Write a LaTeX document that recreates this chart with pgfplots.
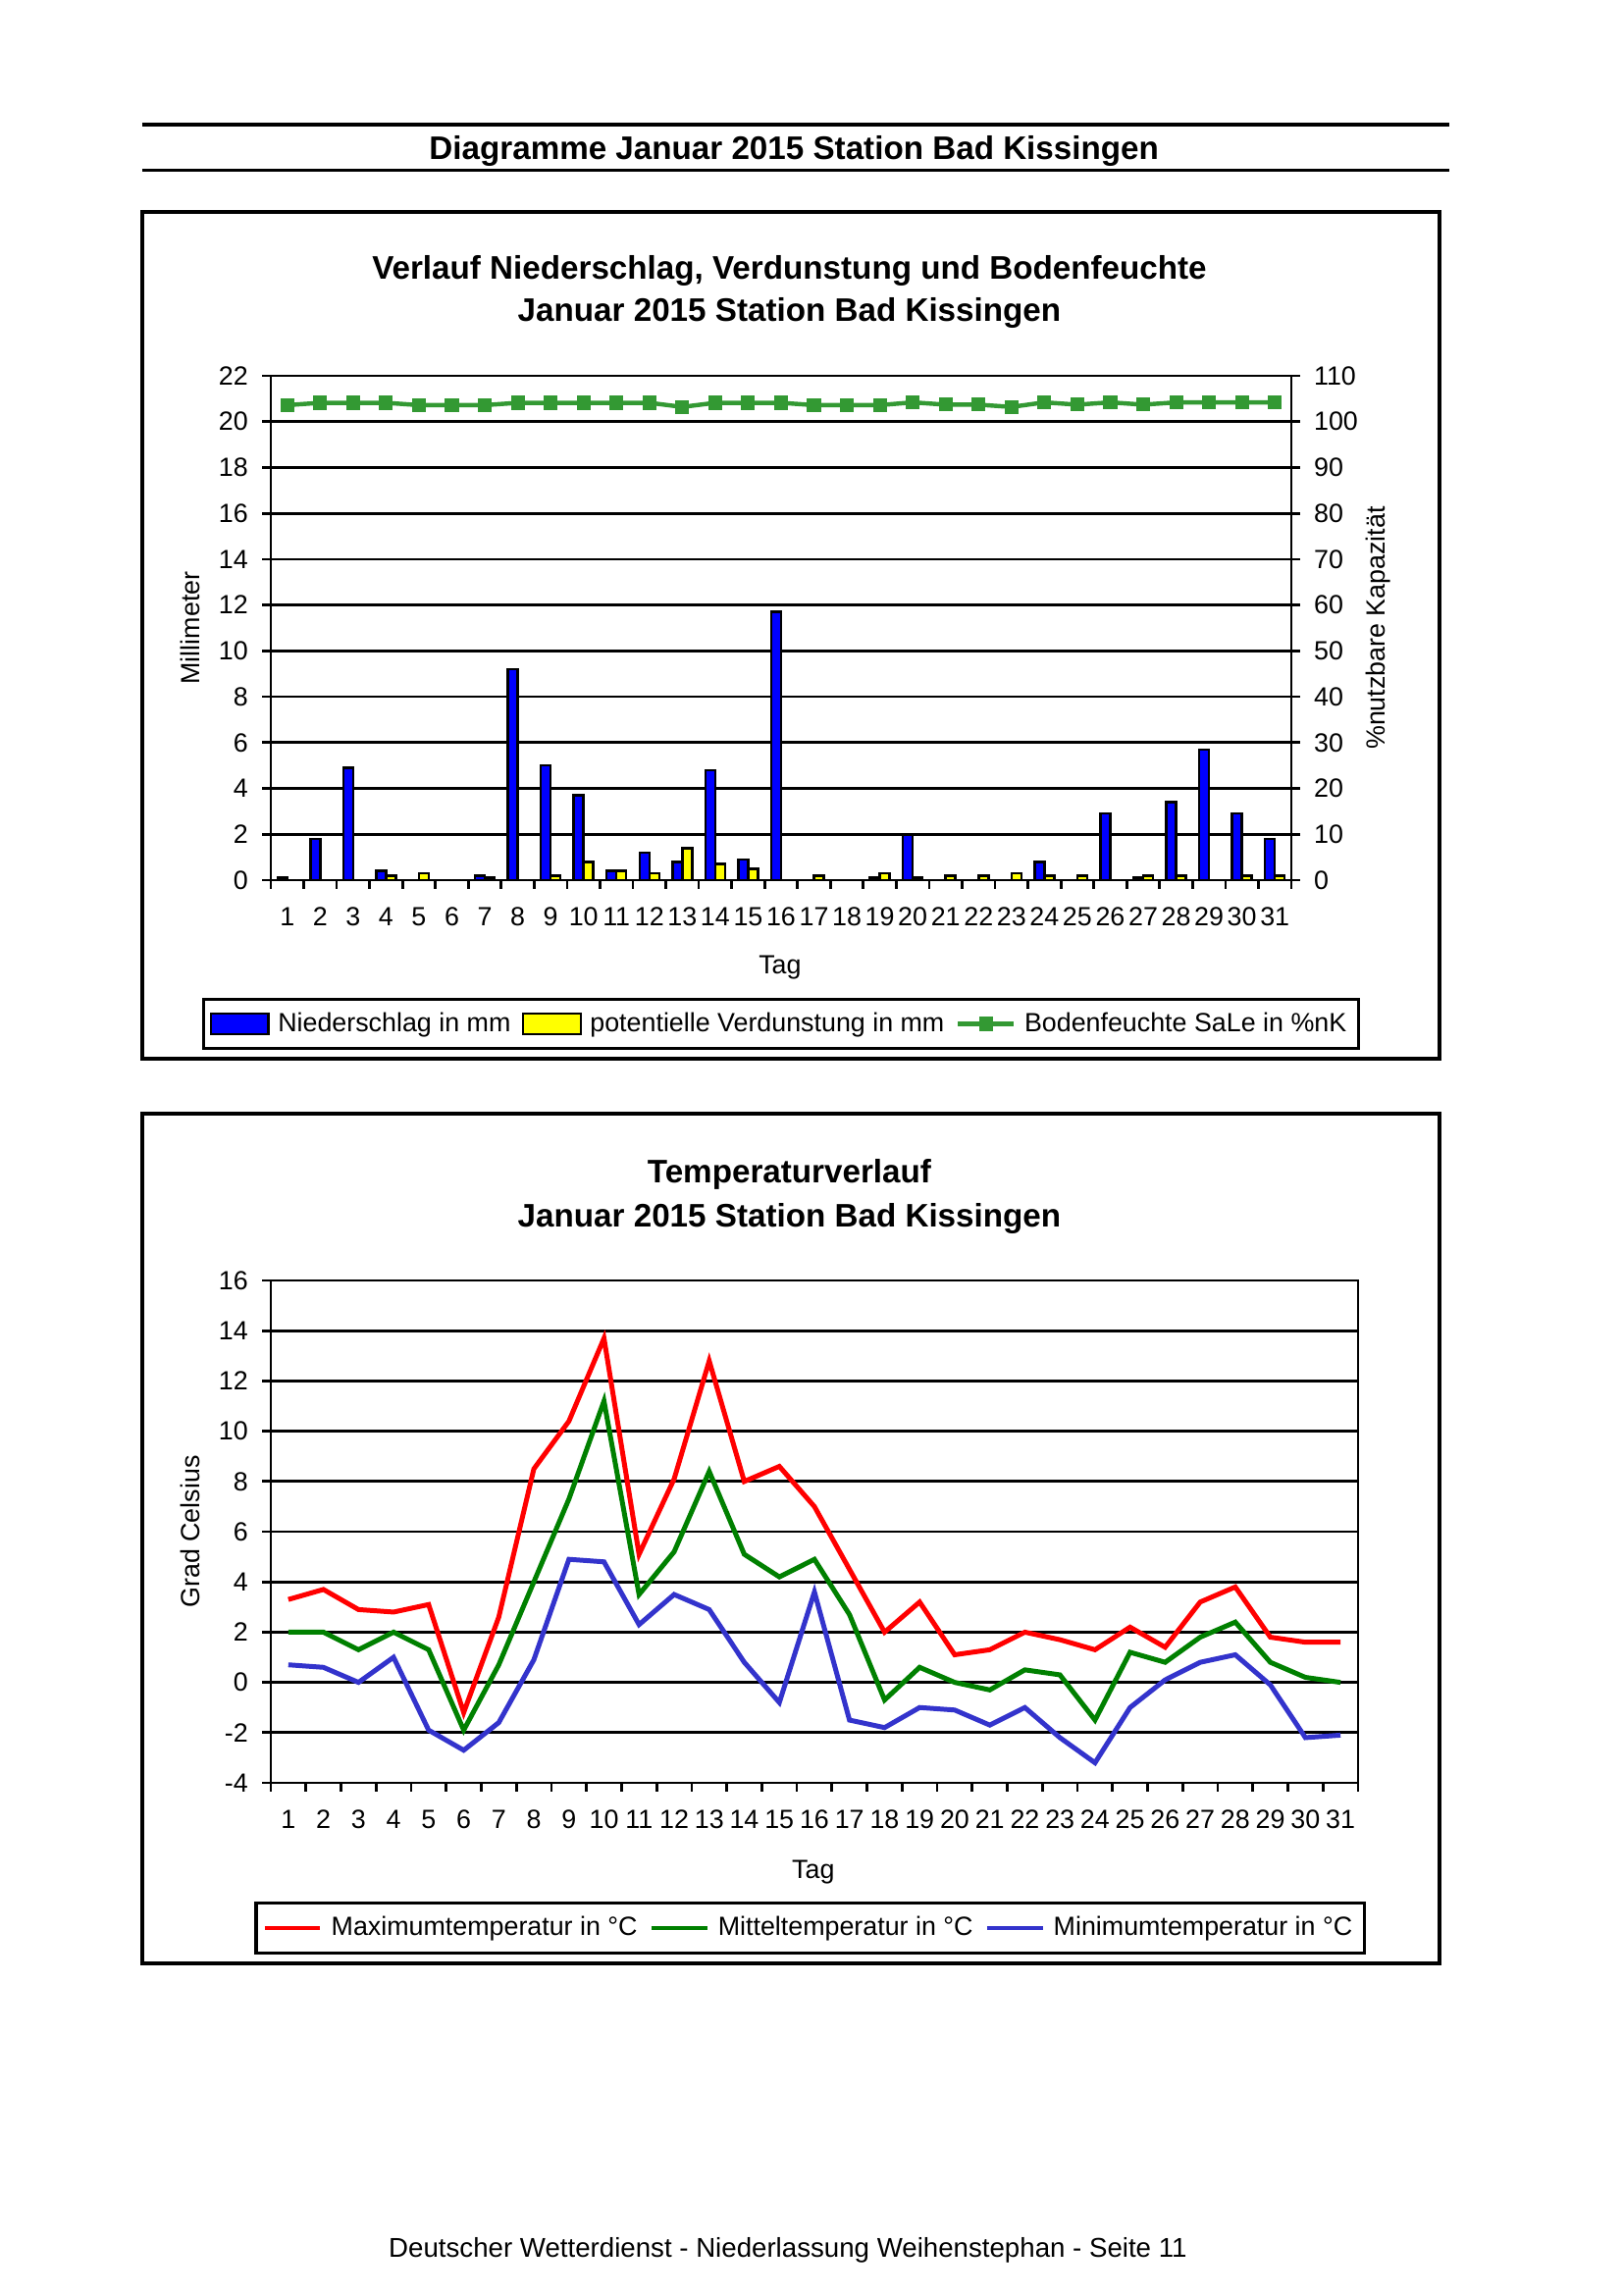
\documentclass[border=0pt]{standalone}
\usepackage{fontspec}
\setmainfont{Liberation Sans}
\usepackage{pgfplots}
\pgfplotsset{compat=1.18}
\usepackage{pgfplotstable}

\definecolor{barblue}{RGB}{0,0,255}
\definecolor{baryellow}{RGB}{255,255,0}
\definecolor{soilgreen}{RGB}{51,153,51}
\definecolor{tred}{RGB}{255,0,0}
\definecolor{tgreen}{RGB}{0,128,0}
\definecolor{tblue}{RGB}{51,51,204}

\pgfplotstableread{
tag nied verd boden
1  0.1 0.0 103.6
2  1.8 0.0 104.1
3  4.9 0.0 104.1
4  0.4 0.2 104.1
5  0.0 0.3 103.6
6  0.0 0.0 103.6
7  0.2 0.1 103.6
8  9.2 0.0 104.1
9  5.0 0.2 104.1
10 3.7 0.8 104.1
11 0.4 0.4 104.1
12 1.2 0.3 104.1
13 0.8 1.4 103.2
14 4.8 0.7 104.1
15 0.9 0.5 104.1
16 11.7 0.0 104.1
17 0.0 0.2 103.6
18 0.0 0.0 103.6
19 0.1 0.3 103.6
20 2.0 0.1 104.2
21 0.0 0.2 103.7
22 0.0 0.2 103.7
23 0.0 0.3 103.2
24 0.8 0.2 104.2
25 0.0 0.2 103.7
26 2.9 0.0 104.2
27 0.1 0.2 103.7
28 3.4 0.2 104.2
29 5.7 0.0 104.2
30 2.9 0.2 104.2
31 1.8 0.2 104.2
}\bardata

\pgfplotstableread{
tag tmax tmean tmin
1  3.3  2.0  0.7
2  3.7  2.0  0.6
3  2.9  1.3  0.0
4  2.8  2.0  1.0
5  3.1  1.3 -1.9
6 -1.2 -1.9 -2.7
7  2.6  0.7 -1.6
8  8.5  4.0  0.9
9 10.4  7.3  4.9
10 13.7 11.2 4.8
11 5.1  3.5  2.3
12 8.1  5.2  3.5
13 12.8 8.4  2.9
14 8.0  5.1  0.8
15 8.6  4.2 -0.8
16 7.0  4.9  3.6
17 4.5  2.7 -1.5
18 2.0 -0.7 -1.8
19 3.2  0.6 -1.0
20 1.1  0.0 -1.1
21 1.3 -0.3 -1.7
22 2.0  0.5 -1.0
23 1.7  0.3 -2.2
24 1.3 -1.5 -3.2
25 2.2  1.2 -1.0
26 1.4  0.8  0.1
27 3.2  1.8  0.8
28 3.8  2.4  1.1
29 1.8  0.8 -0.1
30 1.6  0.2 -2.2
31 1.6  0.0 -2.1
}\tempdata

\newcommand{\tickfont}{\fontsize{9.7}{11.6}\selectfont}
\newcommand{\titlefont}{\fontsize{12}{14.4}\selectfont\bfseries}

\pgfplotsset{
  rectlegend/.style={legend image code/.code={\draw[##1,line width=0.8pt] (0mm,-1.3mm) rectangle (7.4mm,1.3mm);}},
  linelegend/.style={legend image code/.code={\draw[mark repeat=2,mark phase=2,##1] plot coordinates {(0mm,0mm) (3.6mm,0mm) (7.2mm,0mm)};}},
  dwd/.style={
    scale only axis,
    anchor=south west,
    font=\tickfont,
    /pgf/number format/assume math mode=true,
    xmin=0.5, xmax=31.5,
    xtick={0.5,1.5,...,31.5},
    xticklabels={1,2,3,4,5,6,7,8,9,10,11,12,13,14,15,16,17,18,19,20,21,22,23,24,25,26,27,28,29,30,31},
    x tick label as interval,
    tick align=outside,
    major tick length=1.1mm,
    tick style={black, line width=1pt},
    axis line style={black, line width=1pt},
    grid style={black, line width=1pt},
    xticklabel style={yshift=-1.2mm, font=\tickfont},
    yticklabel style={font=\tickfont},
    legend style={draw=black, line width=1.1pt, fill=white, font=\tickfont,
      inner xsep=0.8mm, inner ysep=1mm,
      /tikz/every odd column/.append style={column sep=0.4mm},
      /tikz/every even column/.append style={column sep=0.8mm}},
    legend columns=3,
  },
}

\begin{document}
\begin{tikzpicture}
\useasboundingbox (0,0) rectangle (210mm,-297.27mm);
\fill[white] (0,0) rectangle (210mm,-297.27mm);

% page header
\draw[line width=1.1pt] (18.42mm,-16.13mm) -- (187.6mm,-16.13mm);
\draw[line width=1.1pt] (18.42mm,-21.98mm) -- (187.6mm,-21.98mm);
\node[font=\titlefont, anchor=base] at (102.8mm,-20.7mm) {Diagramme Januar 2015 Station Bad Kissingen};

% box 1
\draw[line width=1.2pt] (18.42mm,-27.44mm) rectangle (186.37mm,-137.08mm);
\node[font=\titlefont, anchor=base] at (102.2mm,-36.2mm) {Verlauf Niederschlag, Verdunstung und Bodenfeuchte};
\node[font=\titlefont, anchor=base] at (102.2mm,-41.65mm) {Januar 2015 Station Bad Kissingen};

\begin{axis}[dwd,
  at={(35.06mm,-113.95mm)},
  width=132.12mm, height=65.30mm,
  axis x line*=bottom, axis y line*=left,
  ymin=0, ymax=22, ytick={0,2,...,22},
  ymajorgrids,
  ybar=0pt, bar width=1.27mm,
  xlabel={Tag}, ylabel={Millimeter},
  every axis x label/.style={at={(axis description cs:0.499,-0.173)}, anchor=center},
  every axis y label/.style={at={(axis description cs:-0.0788,0.5)}, rotate=90, anchor=center},
  yticklabel style={xshift=-0.6mm},
]
\addplot[fill=barblue, draw=black, line width=0.9pt] table[x=tag, y=nied] {\bardata};
\addplot[fill=baryellow, draw=black, line width=0.9pt] table[x=tag, y=verd] {\bardata};
\end{axis}

\begin{axis}[dwd,
  at={(35.06mm,-113.95mm)},
  width=132.12mm, height=65.30mm,
  axis x line=none, axis y line*=right,
  ymin=0, ymax=110, ytick={0,10,...,110},
  ylabel={\%nutzbare Kapazität},
  every axis y label/.style={at={(axis description cs:1.0856,0.5)}, rotate=90, anchor=center},
  yticklabel style={xshift=0.6mm},
  legend style={at={(0.5,-0.285)}, anchor=center},
]
\addlegendimage{rectlegend, fill=barblue, draw=black}
\addlegendentry{Niederschlag in mm}
\addlegendimage{rectlegend, fill=baryellow, draw=black}
\addlegendentry{potentielle Verdunstung in mm}
\addplot[linelegend, soilgreen, line width=1.6pt, mark=square*, mark size=2.3pt, mark options={fill=soilgreen, draw=soilgreen, line width=0.5pt}] table[x=tag, y=boden] {\bardata};
\addlegendentry{Bodenfeuchte SaLe in \%nK}
\end{axis}

% box 2
\draw[line width=1.2pt] (18.42mm,-144.19mm) rectangle (186.37mm,-254.2mm);
\node[font=\titlefont, anchor=base] at (102.2mm,-153.1mm) {Temperaturverlauf};
\node[font=\titlefont, anchor=base] at (102.2mm,-158.8mm) {Januar 2015 Station Bad Kissingen};

\begin{axis}[dwd,
  at={(35.06mm,-230.83mm)},
  width=140.76mm, height=65.04mm,
  tick pos=left,
  ymin=-4, ymax=16, ytick={-4,-2,...,16},
  ymajorgrids,
  xlabel={Tag}, ylabel={Grad Celsius},
  every axis x label/.style={at={(axis description cs:0.499,-0.178)}, anchor=center},
  every axis y label/.style={at={(axis description cs:-0.074,0.5)}, rotate=90, anchor=center},
  yticklabel style={xshift=-0.6mm},
  legend style={at={(0.496,-0.289)}, anchor=center},
]
\addplot[linelegend, tred, line width=1.8pt, mark=none] table[x=tag, y=tmax] {\tempdata};
\addlegendentry{Maximumtemperatur in °C}
\addplot[linelegend, tgreen, line width=1.8pt, mark=none] table[x=tag, y=tmean] {\tempdata};
\addlegendentry{Mitteltemperatur in °C}
\addplot[linelegend, tblue, line width=1.8pt, mark=none] table[x=tag, y=tmin] {\tempdata};
\addlegendentry{Minimumtemperatur in °C}
\end{axis}

% footer
\node[font=\fontsize{10}{12}\selectfont, anchor=base] at (102.0mm,-292.2mm) {Deutscher Wetterdienst - Niederlassung Weihenstephan - Seite 11};
\end{tikzpicture}
\end{document}
